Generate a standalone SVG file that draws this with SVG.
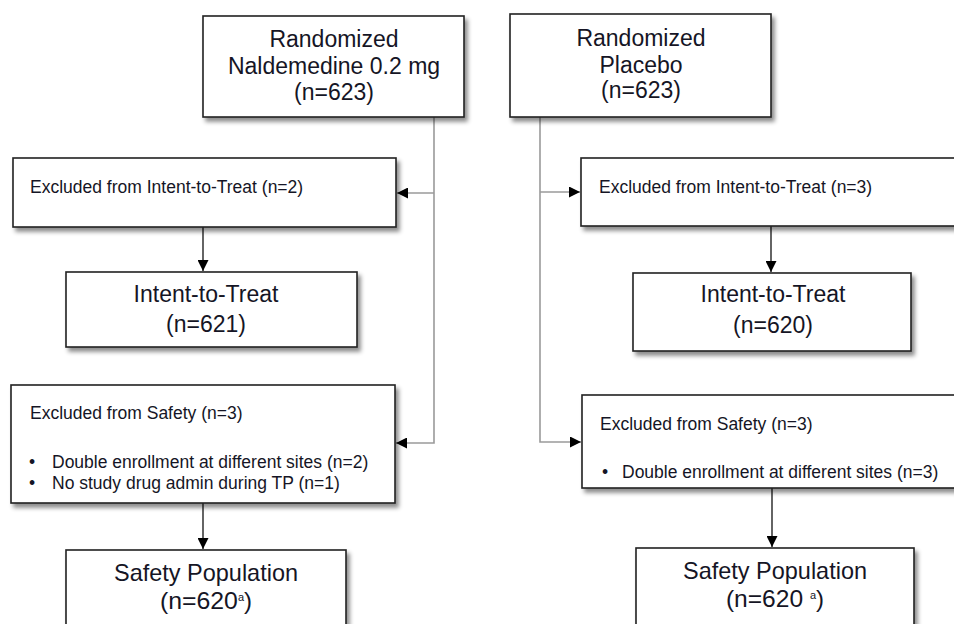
<svg xmlns="http://www.w3.org/2000/svg" width="954" height="624" viewBox="0 0 954 624">
<defs>
<filter id="sh" x="-10%" y="-10%" width="130%" height="140%">
<feDropShadow dx="3" dy="4" stdDeviation="2.2" flood-color="#000" flood-opacity="0.45"/>
</filter>
<marker id="ah" viewBox="0 0 10 10" refX="10" refY="5" markerWidth="11" markerHeight="11" markerUnits="userSpaceOnUse" orient="auto">
<path d="M0,0 L10,5 L0,10 Z" fill="#000"/>
</marker>
</defs>
<style>
.box{fill:#fff;stroke:#222;stroke-width:1.6;filter:url(#sh)}
.big{font-family:"Liberation Sans",Arial,sans-serif;font-size:23px;fill:#151525;text-anchor:middle}
.sm{font-family:"Liberation Sans",Arial,sans-serif;font-size:17.5px;fill:#151525}
.gl{fill:none;stroke:#9a9a9a;stroke-width:1.6}
.bl{fill:none;stroke:#111;stroke-width:1.3}
.sup{font-size:11px}
</style>
<rect width="954" height="624" fill="#fff"/>
<g id="connectors">
<path class="gl" d="M434,117 V443 H396" marker-end="url(#ah)"/>
<path class="gl" d="M434,193 H397" marker-end="url(#ah)"/>
<path class="gl" d="M540,117 V442 H581" marker-end="url(#ah)"/>
<path class="gl" d="M540,192 H580" marker-end="url(#ah)"/>
<path class="bl" d="M203,227 V271" marker-end="url(#ah)"/>
<path class="bl" d="M771,226 V272" marker-end="url(#ah)"/>
<path class="bl" d="M203,503 V549" marker-end="url(#ah)"/>
<path class="bl" d="M772,488 V547" marker-end="url(#ah)"/>
</g>
<g id="rand-nald">
<rect class="box" x="203" y="16" width="261" height="101"/>
<text class="big" x="334" y="47">Randomized</text>
<text class="big" x="334" y="74">Naldemedine 0.2 mg</text>
<text class="big" x="334" y="100">(n=623)</text>
</g>
<g id="rand-plac">
<rect class="box" x="510" y="14" width="261" height="103"/>
<text class="big" x="641" y="46">Randomized</text>
<text class="big" x="641" y="73">Placebo</text>
<text class="big" x="641" y="98">(n=623)</text>
</g>
<g id="excl-itt-nald">
<rect class="box" x="13" y="158" width="383" height="69"/>
<text class="sm" x="30" y="193">Excluded from Intent-to-Treat (n=2)</text>
</g>
<g id="excl-itt-plac">
<rect class="box" x="581" y="158" width="400" height="68"/>
<text class="sm" x="599" y="193">Excluded from Intent-to-Treat (n=3)</text>
</g>
<g id="itt-nald">
<rect class="box" x="66" y="272" width="291" height="75"/>
<text class="big" x="206" y="302">Intent-to-Treat</text>
<text class="big" x="206" y="332">(n=621)</text>
</g>
<g id="itt-plac">
<rect class="box" x="633" y="273" width="278" height="78"/>
<text class="big" x="773" y="302">Intent-to-Treat</text>
<text class="big" x="773" y="333">(n=620)</text>
</g>
<g id="excl-saf-nald">
<rect class="box" x="11" y="385" width="384" height="118"/>
<text class="sm" x="30" y="419">Excluded from Safety (n=3)</text>
<text class="sm" x="29" y="468">•</text>
<text class="sm" x="52" y="468">Double enrollment at different sites (n=2)</text>
<text class="sm" x="29" y="489">•</text>
<text class="sm" x="52" y="489">No study drug admin during TP (n=1)</text>
</g>
<g id="excl-saf-plac">
<rect class="box" x="582" y="395" width="400" height="93"/>
<text class="sm" x="600" y="430">Excluded from Safety (n=3)</text>
<text class="sm" x="602" y="478">•</text>
<text class="sm" x="622" y="478">Double enrollment at different sites (n=3)</text>
</g>
<g id="saf-nald">
<rect class="box" x="66" y="550" width="280" height="100"/>
<text class="big" x="206" y="581" textLength="184" lengthAdjust="spacingAndGlyphs" style="font-size:24px">Safety Population</text>
<text class="big" x="206" y="609" style="font-size:24px"><tspan textLength="78" lengthAdjust="spacingAndGlyphs">(n=620</tspan><tspan class="sup" dy="-8">a</tspan><tspan dy="8">)</tspan></text>
</g>
<g id="saf-plac">
<rect class="box" x="636" y="548" width="278" height="100"/>
<text class="big" x="775" y="579" textLength="184" lengthAdjust="spacingAndGlyphs" style="font-size:24px">Safety Population</text>
<text class="big" x="775" y="607" style="font-size:24px"><tspan textLength="84" lengthAdjust="spacingAndGlyphs">(n=620 </tspan><tspan class="sup" dy="-8">a</tspan><tspan dy="8">)</tspan></text>
</g>
</svg>
